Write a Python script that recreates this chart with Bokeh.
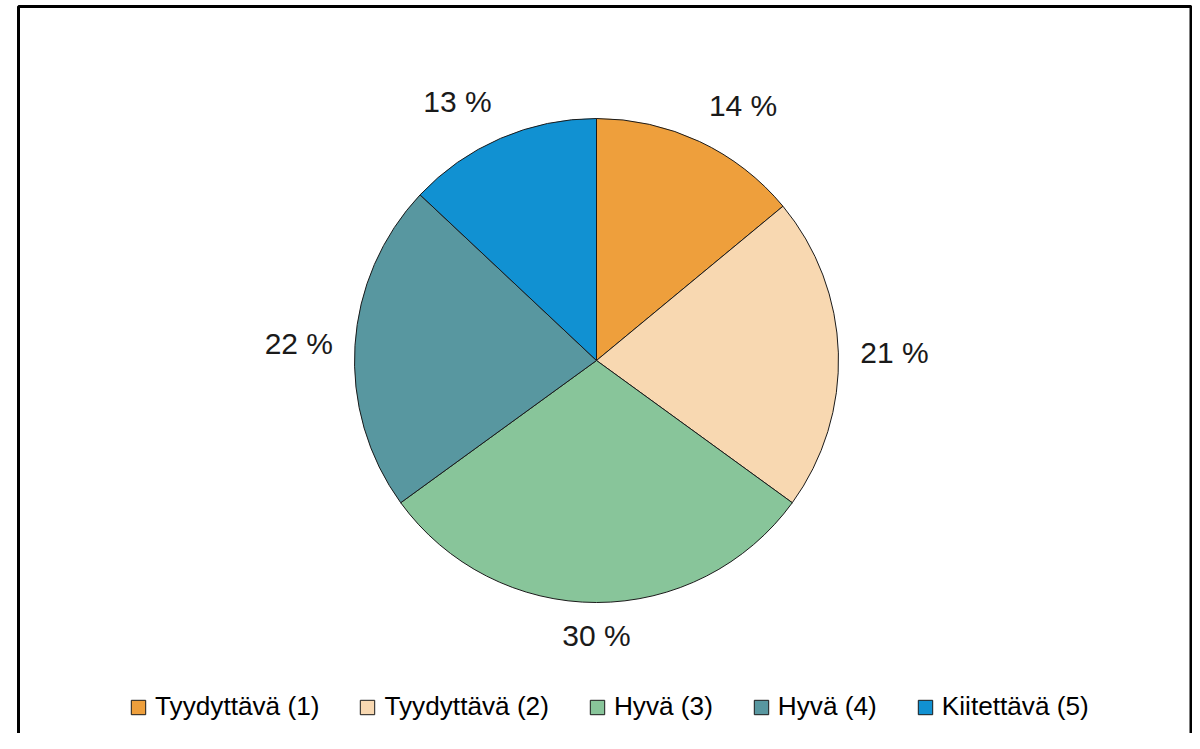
import math
from bokeh.plotting import figure
from bokeh.models import ColumnDataSource, Range1d, Legend, LegendItem
from bokeh.core.properties import value
from bokeh.embed import file_html
from bokeh.resources import INLINE

categories = ["Tyydyttävä (1)", "Tyydyttävä (2)", "Hyvä (3)", "Hyvä (4)", "Kiitettävä (5)"]
shares = [14, 21, 30, 22, 13]
labels = ["14 %", "21 %", "30 %", "22 %", "13 %"]
colors = ["#EE9F3C", "#F8D8B1", "#88C59A", "#5897A0", "#1191D2"]

W, H = 1192, 733
cx, cy, R = 596, 373, 242
FONT = "Liberation Sans"

total = sum(shares)
starts, ends, lx, ly, al, bl = [], [], [], [], [], []
acc = 0.0
for s in shares:
    a0 = math.pi / 2 - 2 * math.pi * acc / total
    a1 = math.pi / 2 - 2 * math.pi * (acc + s) / total
    starts.append(a0)
    ends.append(a1)
    mid = (a0 + a1) / 2
    dx, dy = math.cos(mid), math.sin(mid)
    off = 22 if dy > -0.9 else 16
    lx.append(cx + (R + off) * dx)
    ly.append(cy + (R + off) * dy)
    al.append("center" if abs(dx) < 0.2 else ("left" if dx > 0 else "right"))
    bl.append("middle" if abs(dy) < 0.3 else ("bottom" if dy > 0 else "top"))
    acc += s

src = ColumnDataSource(dict(cat=categories, start=starts, end=ends, color=colors))
lsrc = ColumnDataSource(dict(x=lx, y=ly, text=labels, align=al, base=bl))

p = figure(width=W, height=H, x_range=Range1d(0, W), y_range=Range1d(0, H),
           output_backend="svg", toolbar_location=None, min_border=0)
p.axis.visible = False
p.grid.visible = False
p.outline_line_color = None
p.background_fill_color = "white"

# chart frame (left, top, right sides)
p.line([18, 18, 1190.5, 1190.5], [-10, H - 6, H - 6, -10], line_color="black", line_width=3)

r = p.wedge(x=cx, y=cy, radius=R, start_angle="start", end_angle="end",
            direction="clock", fill_color="color", line_color="#1a1a1a",
            line_width=1, source=src)

p.text(x="x", y="y", text="text", text_align="align", text_baseline="base",
       text_font=value(FONT), text_font_size="30px", text_color="#1a1a1a", source=lsrc)

items = [LegendItem(label=c, renderers=[r], index=i) for i, c in enumerate(categories)]
legend = Legend(items=items, orientation="horizontal", location=(129, 11),
                glyph_width=18, glyph_height=18, label_standoff=8, spacing=39,
                padding=0, margin=0, label_height=30,
                label_text_font=FONT, label_text_font_size="26.2px",
                label_text_color="black", border_line_color=None,
                background_fill_alpha=0)
p.add_layout(legend)

open("out.html", "w").write(file_html(p, INLINE))
